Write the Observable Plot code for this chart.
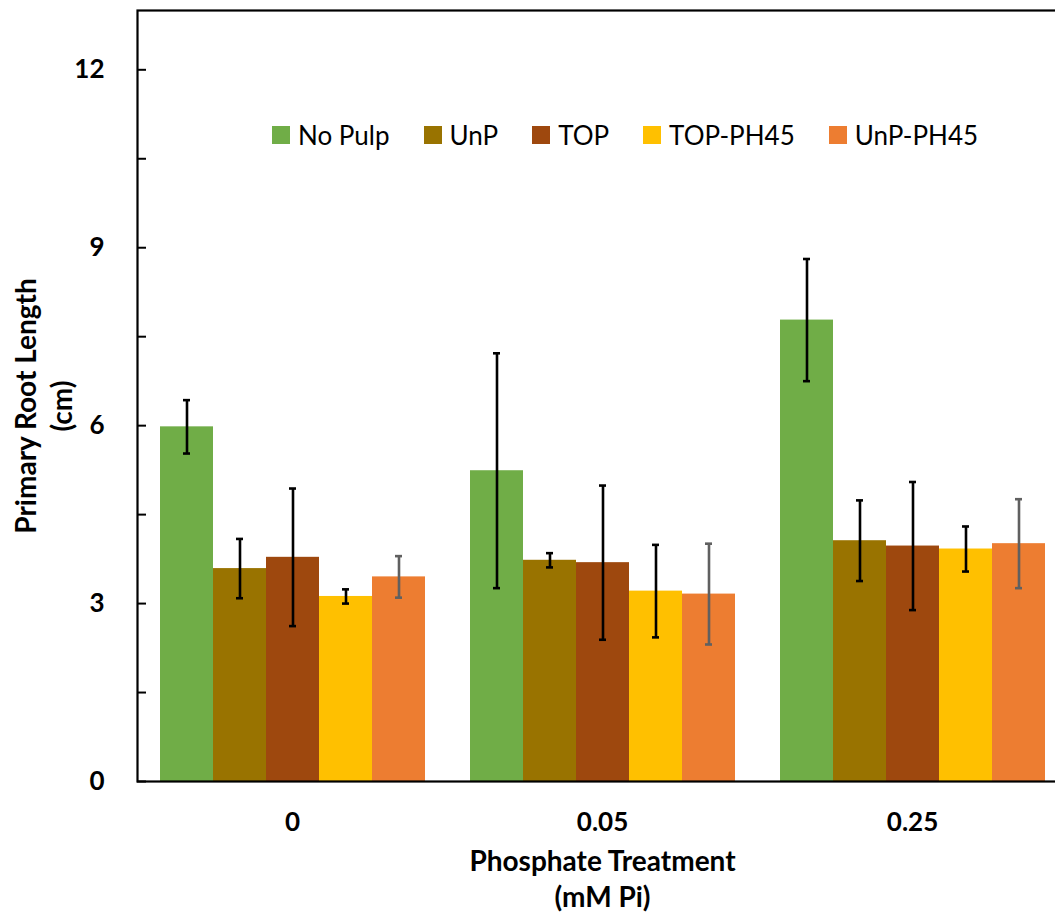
<!DOCTYPE html>
<html><head><meta charset="utf-8">
<script src="https://cdn.jsdelivr.net/npm/d3@7"></script>
<script src="https://cdn.jsdelivr.net/npm/@observablehq/plot@0.6"></script>
<style>
body{margin:0;background:#fff;overflow:hidden;}
#wrap{position:relative;width:1055px;height:913px;overflow:hidden;}
#wrap > svg{max-width:none !important;}
#legend{position:absolute;left:272px;top:118px;}
div.lg-swatches{font-family:Lato,sans-serif;font-size:26px;color:#000;margin:0;white-space:nowrap;}
div.lg-swatches span.lg-swatch{margin-right:34px;}
div.lg-swatches span.lg-swatch > svg{margin-right:8px;}
</style></head><body><div id="wrap"></div>
<script>
const phosphate = ["0", "0.05", "0.25"];
const series = ["No Pulp", "UnP", "TOP", "TOP-PH45", "UnP-PH45"];
const colors = ["#70AD47", "#997300", "#9E480E", "#FFC000", "#ED7D31"];
const noPulpMean = [5.98, 5.24, 7.78];
const unpMean = [3.59, 3.73, 4.06];
const topMean = [3.78, 3.69, 3.97];
const topPh45Mean = [3.12, 3.21, 3.92];
const unpPh45Mean = [3.45, 3.16, 4.01];
const noPulpErr = [0.45, 1.98, 1.03];
const unpErr = [0.50, 0.12, 0.68];
const topErr = [1.16, 1.30, 1.08];
const topPh45Err = [0.12, 0.78, 0.38];
const unpPh45Err = [0.35, 0.85, 0.75];
const yTicks = [0, 1.5, 3, 4.5, 6, 7.5, 9, 10.5, 12];
const yLabelTicks = [0, 3, 6, 9, 12];
const yTitle = "Primary Root Length\n(cm)";
const xTitle = "Phosphate Treatment\n(mM Pi)";

const means = [noPulpMean, unpMean, topMean, topPh45Mean, unpPh45Mean];
const errs = [noPulpErr, unpErr, topErr, topPh45Err, unpPh45Err];
const rows = [];
series.forEach((s, i) => phosphate.forEach((p, j) => rows.push({
  phos: p, series: s, mean: means[i][j], lo: means[i][j] - errs[i][j], hi: means[i][j] + errs[i][j]
})));

const grayErr = d => d.series === "UnP-PH45";
const blackErr = d => d.series !== "UnP-PH45";
const errStyle = {fx: "phos", x: "series", strokeWidth: 2.6};
const capStyle = {...errStyle, insetLeft: 23, insetRight: 23};

const chart = Plot.plot({
  width: 1067,
  height: 913,
  marginTop: 10,
  marginBottom: 132,
  marginLeft: 137,
  marginRight: 0,
  style: {fontFamily: "Lato, sans-serif", fontSize: "26px", fontWeight: "bold", color: "#000", background: "#fff"},
  fx: {domain: phosphate, padding: 0},
  x: {domain: series, paddingInner: 0, paddingOuter: 0.4245, axis: null},
  y: {domain: [0, 13]},
  color: {domain: series, range: colors},
  marks: [
    Plot.barY(rows, {fx: "phos", x: "series", y: "mean", fill: "series"}),
    Plot.ruleX(rows, {...errStyle, y1: "lo", y2: "hi", stroke: "#000", filter: blackErr}),
    Plot.tickY(rows, {...capStyle, y: "lo", stroke: "#000", filter: blackErr}),
    Plot.tickY(rows, {...capStyle, y: "hi", stroke: "#000", filter: blackErr}),
    Plot.ruleX(rows, {...errStyle, y1: "lo", y2: "hi", stroke: "#606060", filter: grayErr}),
    Plot.tickY(rows, {...capStyle, y: "lo", stroke: "#606060", filter: grayErr}),
    Plot.tickY(rows, {...capStyle, y: "hi", stroke: "#606060", filter: grayErr}),
    Plot.frame({stroke: "#000", strokeWidth: 2.2, facet: "super"}),
    Plot.axisY({ticks: yTicks, tickFormat: d => yLabelTicks.includes(d) ? String(d) : "", tickSize: -9, tickPadding: 42, strokeWidth: 2, label: null, fontSize: 26}),
    Plot.axisFx({anchor: "bottom", tickSize: 0, tickPadding: 31, label: null, fontSize: 26}),
    Plot.text([yTitle], {frameAnchor: "left", textAnchor: "middle", lineAnchor: "middle", dx: -95, dy: 10, rotate: -90, lineHeight: 1.3, fontSize: 28, fontWeight: "bold", facet: "super"}),
    Plot.text([xTitle], {frameAnchor: "bottom", textAnchor: "middle", lineAnchor: "middle", dy: 96, lineHeight: 1.28, fontSize: 28, fontWeight: "bold", facet: "super"})
  ]
});
const wrap = document.getElementById("wrap");
wrap.appendChild(chart);
const lg = chart.legend("color", {legend: "swatches", swatchSize: 18, className: "lg"});
lg.id = "legend";
wrap.appendChild(lg);
</script></body></html>
